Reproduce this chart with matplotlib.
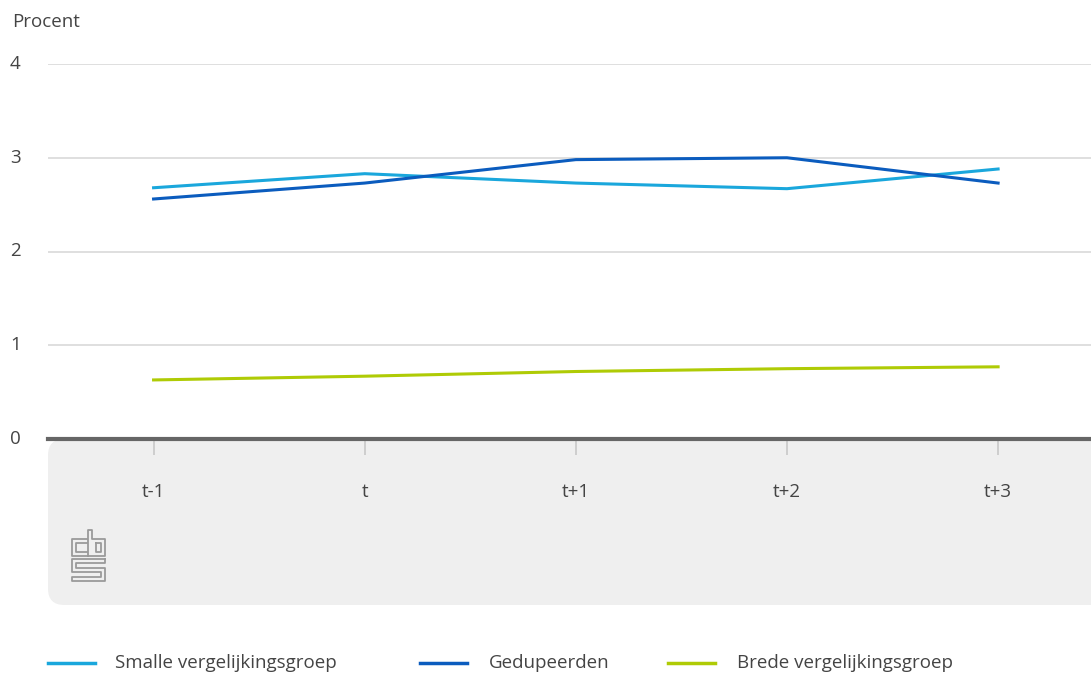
import matplotlib
matplotlib.use("Agg")
import matplotlib.pyplot as plt
import matplotlib.transforms as mtrans
from matplotlib.patches import FancyBboxPatch
from matplotlib.lines import Line2D

categories = ["t-1", "t", "t+1", "t+2", "t+3"]
smalle = [2.68, 2.83, 2.73, 2.67, 2.88]
gedupeerden = [2.56, 2.73, 2.98, 3.00, 2.73]
brede = [0.63, 0.67, 0.72, 0.75, 0.77]
yticks = [0, 1, 2, 3, 4]

W, H = 1091, 675
FS = 13.5
TXT = "#444444"
fig = plt.figure(figsize=(W / 100, H / 100), dpi=100)
plt.rcParams['font.family'] = ['Open Sans', 'DejaVu Sans']

def fx(px):
    return px / W

def fy(py):
    return 1 - py / H

# grey band below the axis
band = FancyBboxPatch((fx(48), fy(605)), fx(1200) - fx(48), fy(439) - fy(605),
                      boxstyle="round,pad=0,rounding_size=0.015",
                      transform=fig.transFigure, facecolor="#efefef",
                      edgecolor="none", zorder=-5, mutation_aspect=W / H)
fig.patches.append(band)

ax = fig.add_axes([fx(48), fy(439), fx(1091) - fx(48), fy(64) - fy(439)])
ax.set_zorder(2)
ax.patch.set_alpha(0)
ax.set_ylim(0, 4)
ax.set_xlim(-0.5, 4.44)
x = list(range(len(categories)))

for yv in yticks[1:]:
    ax.axhline(yv, color="#d9d9d9", lw=1.2, zorder=1)

ax.plot(x, smalle, color="#1aa7dc", lw=2.2, zorder=3, solid_joinstyle="round")
ax.plot(x, gedupeerden, color="#0b5cbe", lw=2.2, zorder=3, solid_joinstyle="round")
ax.plot(x, brede, color="#afcb05", lw=2.2, zorder=3, solid_joinstyle="round")

for s in ax.spines.values():
    s.set_visible(False)
ax.axhline(0, color="#666666", lw=3, zorder=4, clip_on=False)

ax.set_yticks(yticks)
ax.set_yticklabels([])
ax.tick_params(axis="y", length=0)
ytr = mtrans.blended_transform_factory(fig.transFigure, ax.transData)
for v in yticks:
    fig.text(fx(10), v, str(v), transform=ytr, fontsize=FS, color=TXT,
             ha="left", va="center")

ax.set_xticks(x)
ax.set_xticklabels(categories, fontsize=FS, color=TXT)
ax.tick_params(axis="x", length=11.5, width=1.2, color="#c8c8c8", pad=20)

fig.text(fx(12), fy(22), "Procent", fontsize=FS, color=TXT, va="center", ha="left")

# cbs logo (simplified outline)
def seg(pts):
    xs = [fx(p[0]) for p in pts]
    ys = [fy(p[1]) for p in pts]
    fig.add_artist(Line2D(xs, ys, transform=fig.transFigure, color="#9a9a9a", lw=1.3))

# c
seg([(87, 539), (72, 539), (72, 556), (87, 556)])
seg([(87, 543), (76, 543), (76, 552), (87, 552)])
# b
seg([(88, 556), (88, 530), (92, 530), (92, 539), (105, 539), (105, 556), (88, 556)])
seg([(96, 543), (101, 543), (101, 552), (96, 552), (96, 543)])
# S
seg([(105, 559), (72, 559), (72, 572), (101, 572), (101, 577), (72, 577), (72, 581), (105, 581), (105, 568), (76, 568), (76, 563), (105, 563), (105, 559)])

# legend
items = [("Smalle vergelijkingsgroep", "#1aa7dc", 48, 115),
         ("Gedupeerden", "#0b5cbe", 420, 489),
         ("Brede vergelijkingsgroep", "#afcb05", 668, 737)]
for name, col, lx, tx in items:
    fig.add_artist(Line2D([fx(lx), fx(lx + 47)], [fy(663), fy(663)],
                          transform=fig.transFigure, color=col, lw=2.5))
    fig.text(fx(tx), fy(663), name, fontsize=FS, color=TXT, va="center", ha="left")

fig.savefig("out.png", dpi=100)
